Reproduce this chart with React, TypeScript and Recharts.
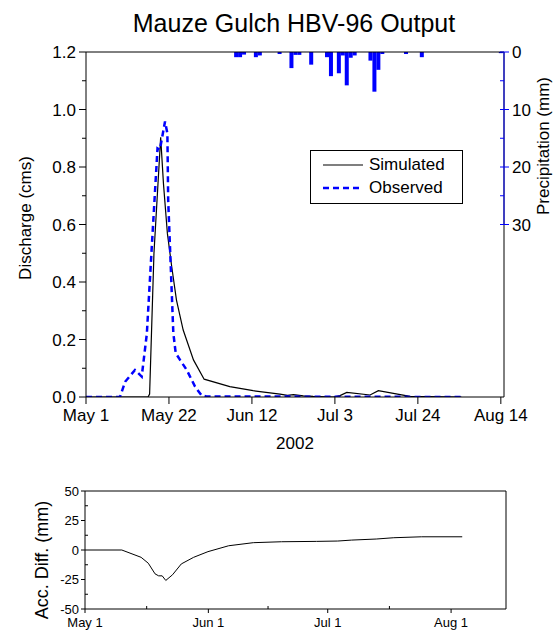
import React from 'react';
import { ComposedChart, LineChart, Line, Bar, XAxis, YAxis, ReferenceLine, Legend } from 'recharts';

// ---------- data ----------
const topTickDays = [0, 21, 42, 63, 84, 105];
const topTickLabels = ['May 1', 'May 22', 'Jun 12', 'Jul 3', 'Jul 24', 'Aug 14'];
const dischargeTicks = [0, 0.1, 0.2, 0.3, 0.4, 0.5, 0.6, 0.7, 0.8, 0.9, 1.0, 1.1, 1.2];
const precipTicks = [0, 5, 10, 15, 20, 25, 30];

const precipDays = [38, 39, 40, 43, 44, 49, 52, 53, 54, 57, 61, 62, 64, 65, 66, 67, 68, 72, 73, 74, 75, 81, 85, 105];
const precipMm = [0.9, 0.9, 0.45, 0.9, 0.6, 0.35, 2.8, 0.5, 0.5, 2.2, 0.9, 4.2, 3.7, 0.6, 5.8, 1.0, 0.6, 1.5, 6.9, 3.1, 0.35, 0.35, 0.9, 0.2];

const simDays = [0, 15.7, 16.1, 17.2, 18.9, 19.6, 20.6, 21.7, 22.9, 24.6, 27.2, 29.9, 36.4, 42.3, 49.1, 51.0, 52.5, 55.0, 57.5, 62.6, 64.3, 66.0, 71.9, 74.0, 82.0, 95.0];
const simCms = [0, 0, 0.01, 0.5, 0.903, 0.743, 0.569, 0.453, 0.337, 0.233, 0.129, 0.062, 0.036, 0.022, 0.01, 0.006, 0.008, 0.004, 0.002, 0, 0.005, 0.016, 0.007, 0.022, 0.002, 0];

const obsDays = [0, 8.6, 9.9, 12.4, 14.1, 15.4, 16.6, 18.1, 18.7, 20.0, 20.6, 20.8, 22.1, 22.7, 23.8, 25.5, 27.6, 29.3, 30.5, 95];
const obsCms = [0, 0, 0.053, 0.094, 0.071, 0.22, 0.51, 0.865, 0.86, 0.958, 0.917, 0.685, 0.223, 0.153, 0.129, 0.094, 0.036, 0.005, 0.002, 0];

const accDays = [0, 9.25, 14.1, 15.9, 17.6, 18.5, 19.4, 20.3, 22.0, 24.2, 27.3, 30.9, 36.1, 42.3, 49.4, 58.2, 63.5, 67.0, 73.2, 77.6, 84.6, 94.8];
const accMm = [0, 0, -6.2, -11.2, -20.2, -21.9, -21.9, -25.8, -21, -11.8, -6.2, -1.4, 3.6, 6.2, 7, 7.3, 7.6, 8.4, 9.3, 10.4, 11.2, 11.2];
const accTicks = [-50, -37.5, -25, -12.5, 0, 12.5, 25, 37.5, 50];
const accMajor = [-50, -25, 0, 25, 50];
const bottomTickDays = [0, 15.5, 31, 46, 61, 76.5, 92];
const bottomMajorDays = [0, 31, 61, 92];
const bottomMajorLabels = ['May 1', 'Jun 1', 'Jul 1', 'Aug 1'];

const X_MAX = 105.8;

const precipData = precipDays.map((d, i) => ({ day: d, mm: precipMm[i] }));
const simData = simDays.map((d, i) => ({ day: d, cms: simCms[i] }));
const obsData = obsDays.map((d, i) => ({ day: d, cms: obsCms[i] }));
const accData = accDays.map((d, i) => ({ day: d, acc: accMm[i] }));

const FONT = '"Liberation Sans", Arial, Helvetica, sans-serif';
const BLUE = '#0000ff';
const BAR_W = 4;

// ---------- tick renderers ----------
const QTick = (props: any) => {
  const { x, y, payload } = props;
  const v = payload.value;
  const major = Math.abs(Math.round(v * 5) - v * 5) < 1e-6;
  return (
    <g>
      <line x1={x - (major ? 7 : 4)} x2={x} y1={y} y2={y} stroke="#000" />
      {major && (
        <text x={x - 10} y={y} dy="0.36em" textAnchor="end" fontSize={17} fontFamily={FONT} fill="#000">
          {v.toFixed(1)}
        </text>
      )}
    </g>
  );
};

const DateTick = (props: any) => {
  const { x, y, payload } = props;
  const i = topTickDays.indexOf(payload.value);
  return (
    <g>
      <line x1={x} x2={x} y1={y} y2={y + 7} stroke="#000" />
      <text x={x} y={y + 24} textAnchor="middle" fontSize={17} fontFamily={FONT} fill="#000">
        {topTickLabels[i]}
      </text>
    </g>
  );
};

const PTick = (props: any) => {
  const { x, y, payload } = props;
  const v = payload.value;
  const major = v % 10 === 0;
  return (
    <g>
      <line x1={x - 4} x2={major ? x + 5 : x} y1={y} y2={y} stroke={BLUE} />
      {major && (
        <text x={x + 8} y={y} dy="0.36em" textAnchor="start" fontSize={17} fontFamily={FONT} fill="#000">
          {v}
        </text>
      )}
    </g>
  );
};

const AccTick = (props: any) => {
  const { x, y, payload } = props;
  const v = payload.value;
  const major = accMajor.indexOf(v) >= 0;
  return (
    <g>
      {major ? (
        <line x1={x - 4} x2={x} y1={y} y2={y} stroke="#000" />
      ) : (
        <line x1={x} x2={x + 3} y1={y} y2={y} stroke="#000" />
      )}
      {major && (
        <text x={x - 6} y={y} dy="0.36em" textAnchor="end" fontSize={13} fontFamily={FONT} fill="#000">
          {v}
        </text>
      )}
    </g>
  );
};

const MonthTick = (props: any) => {
  const { x, y, payload } = props;
  const i = bottomMajorDays.indexOf(payload.value);
  if (i < 0) {
    return <line x1={x} x2={x} y1={y} y2={y - 3} stroke="#000" />;
  }
  return (
    <g>
      <line x1={x} x2={x} y1={y} y2={y + 4} stroke="#000" />
      <text x={x} y={y + 18} textAnchor="middle" fontSize={13} fontFamily={FONT} fill="#000">
        {bottomMajorLabels[i]}
      </text>
    </g>
  );
};

// precipitation bar: fixed-width rect centred on the library's bar position
const PrecipBar = (props: any) => {
  const x = Number(props.x);
  const y = Number(props.y);
  const w = Number(props.width) || 0;
  const h = Number(props.height);
  if (!isFinite(x) || !isFinite(y) || !isFinite(h)) return null;
  const top = h < 0 ? y + h : y;
  const hh = Math.abs(h);
  const cx = x + w / 2;
  return <rect x={cx - BAR_W / 2} y={top} width={BAR_W} height={hh} fill={BLUE} />;
};

// ---------- axis titles ----------
const vTitle = (text: string, dxFromLeft: number, cy: number, size: number) => (props: any) => {
  const vb = props.viewBox || { x: 0, y: 0 };
  const x = vb.x + dxFromLeft;
  return (
    <text x={x} y={cy} transform={`rotate(-90 ${x} ${cy})`} textAnchor="middle" dominantBaseline="central"
      fontSize={size} fontFamily={FONT} fill="#000">
      {text}
    </text>
  );
};

const yearTitle = (props: any) => {
  const vb = props.viewBox;
  return (
    <text x={vb.x + vb.width / 2} y={vb.y + 52} textAnchor="middle" fontSize={17} fontFamily={FONT} fill="#000">
      2002
    </text>
  );
};

// ---------- legend ----------
const LegendBox = () => (
  <div style={{ position: 'relative', width: 153, height: 54, border: '1px solid #000', boxSizing: 'border-box', background: '#fff', fontFamily: FONT, fontSize: 17, color: '#000' }}>
    <svg width={42} height={10} style={{ position: 'absolute', left: 12, top: 9 }}>
      <line x1={0} x2={40} y1={5} y2={5} stroke="#000" strokeWidth={1.2} />
    </svg>
    <div style={{ position: 'absolute', left: 58, top: 3, lineHeight: '22px' }}>Simulated</div>
    <svg width={42} height={10} style={{ position: 'absolute', left: 12, top: 32 }}>
      <line x1={0} x2={40} y1={5} y2={5} stroke={BLUE} strokeWidth={2.5} strokeDasharray="6 4" />
    </svg>
    <div style={{ position: 'absolute', left: 58, top: 26, lineHeight: '22px' }}>Observed</div>
  </div>
);

export default function App() {
  return (
    <div style={{ position: 'absolute', left: 0, top: 0, width: 553, height: 630, background: '#fff', fontFamily: FONT }}>
      <svg width={553} height={44} style={{ position: 'absolute', left: 0, top: 0 }}>
        <text x={294} y={32} textAnchor="middle" fontSize={25} fontFamily={FONT} fill="#000">
          Mauze Gulch HBV-96 Output
        </text>
      </svg>
      <div style={{ position: 'absolute', left: 0, top: 0 }}>
        <ComposedChart width={553} height={460} data={precipData} margin={{ top: 52, right: 0, bottom: 0, left: 0 }}>
          <XAxis dataKey="day" type="number" domain={[0, X_MAX]} ticks={topTickDays} interval={0}
            tickSize={0} tickMargin={0} tickLine={false} tick={<DateTick />} height={63}
            axisLine={{ stroke: '#000' }} allowDataOverflow label={{ content: yearTitle }} />
          <XAxis xAxisId="top" orientation="top" mirror dataKey="day" type="number" domain={[0, X_MAX]}
            ticks={topTickDays} interval={0} tick={false} tickSize={4} axisLine={false}
            tickLine={{ stroke: '#000' }} allowDataOverflow />
          <YAxis yAxisId="q" type="number" domain={[0, 1.2]} ticks={dischargeTicks} interval={0} width={86}
            tickSize={0} tickMargin={0} tickLine={false} tick={<QTick />} axisLine={{ stroke: '#000' }}
            allowDataOverflow label={{ content: vTitle('Discharge (cms)', 25, 218, 17) }} />
          <YAxis yAxisId="p" orientation="right" type="number" domain={[0, 60]} reversed ticks={precipTicks}
            interval={0} width={49} tickSize={0} tickMargin={0} tickLine={false} tick={<PTick />}
            axisLine={false} allowDataOverflow label={{ content: vTitle('Precipitation (mm)', 39, 146, 17) }} />
          <YAxis yAxisId="qR" orientation="right" mirror type="number" domain={[0, 1.2]} ticks={dischargeTicks}
            interval={0} tick={false} tickSize={4} axisLine={false} tickLine={{ stroke: '#000' }} allowDataOverflow />
          <ReferenceLine yAxisId="q" y={1.2} stroke="#000" />
          <ReferenceLine yAxisId="q" x={X_MAX} stroke="#000" />
          <ReferenceLine yAxisId="p" segment={[{ x: X_MAX, y: 0 }, { x: X_MAX, y: 30 }]} stroke={BLUE} />
          <Bar yAxisId="p" dataKey="mm" fill={BLUE} shape={(p: any) => <PrecipBar {...p} />} isAnimationActive={false} />
          <Line yAxisId="q" data={simData} dataKey="cms" type="linear" stroke="#000" strokeWidth={1.2}
            dot={false} activeDot={false} isAnimationActive={false} />
          <Line yAxisId="q" data={obsData} dataKey="cms" type="linear" stroke={BLUE} strokeWidth={2.5}
            strokeDasharray="6 4" dot={false} activeDot={false} isAnimationActive={false} />
          <Legend layout="vertical" align="center" verticalAlign="middle" content={<LegendBox />}
            wrapperStyle={{ left: 310, top: 150, width: 153, height: 54 }} />
        </ComposedChart>
      </div>
      <div style={{ position: 'absolute', left: 0, top: 470 }}>
        <LineChart width={553} height={160} data={accData} margin={{ top: 21, right: 47, bottom: 0, left: 0 }}>
          <XAxis dataKey="day" type="number" domain={[0, X_MAX]} ticks={bottomTickDays} interval={0}
            tickSize={0} tickMargin={0} tickLine={false} tick={<MonthTick />} height={21}
            axisLine={{ stroke: '#000' }} allowDataOverflow />
          <XAxis xAxisId="top" orientation="top" mirror dataKey="day" type="number" domain={[0, X_MAX]}
            ticks={bottomTickDays} interval={0} tick={false} tickSize={3} axisLine={false}
            tickLine={{ stroke: '#000' }} allowDataOverflow />
          <YAxis type="number" domain={[-50, 50]} ticks={accTicks} interval={0} width={85}
            tickSize={0} tickMargin={0} tickLine={false} tick={<AccTick />} axisLine={{ stroke: '#000' }}
            allowDataOverflow label={{ content: vTitle('Acc. Diff. (mm)', 42, 90, 18) }} />
          <YAxis yAxisId="r" orientation="right" mirror type="number" domain={[-50, 50]} ticks={accTicks}
            interval={0} tick={false} tickSize={3} axisLine={false} tickLine={{ stroke: '#000' }} allowDataOverflow />
          <ReferenceLine y={50} stroke="#000" />
          <ReferenceLine x={X_MAX} stroke="#000" />
          <Line dataKey="acc" type="linear" stroke="#000" strokeWidth={1} dot={false} activeDot={false}
            isAnimationActive={false} />
        </LineChart>
      </div>
    </div>
  );
}
